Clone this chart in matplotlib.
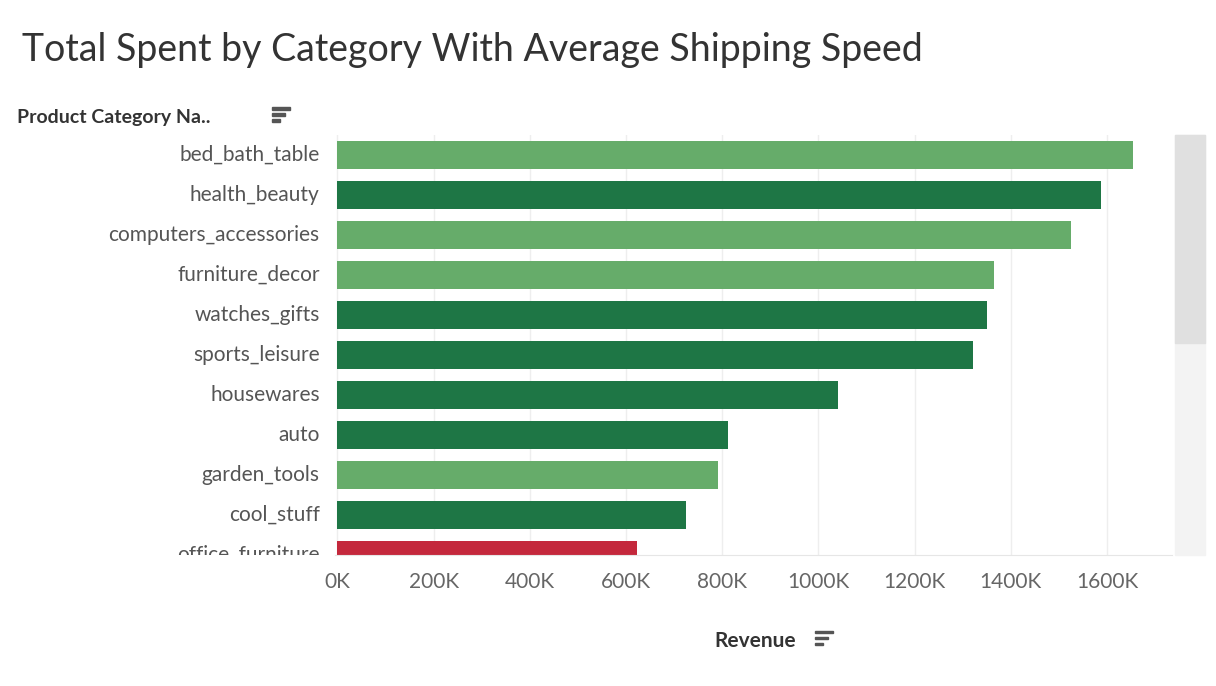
import matplotlib.pyplot as plt
from matplotlib.patches import Rectangle

# --- Data ---
categories = ["bed_bath_table", "health_beauty", "computers_accessories", "furniture_decor",
              "watches_gifts", "sports_leisure", "housewares", "auto", "garden_tools",
              "cool_stuff", "office_furniture"]
revenue_k = [1654, 1588, 1525, 1364, 1351, 1322, 1040, 812, 792, 725, 622]
speed_group = ["fast", "medium", "fast", "fast", "medium", "medium", "medium", "medium",
               "fast", "medium", "slow"]
tick_values = [0, 200, 400, 600, 800, 1000, 1200, 1400, 1600]

COLORS = {"fast": "#66ac6a", "medium": "#1e7645", "slow": "#c4283c"}
W, H = 1216, 686

fig = plt.figure(figsize=(12.16, 6.86), dpi=100)
plt.rcParams['font.family'] = ['Lato', 'DejaVu Sans']

# axes box in pixels: x 335..1172, y 135..555
ax = fig.add_axes([335 / W, 1 - 555 / H, (1172 - 335) / W, (555 - 135) / H])
ypos = list(range(len(categories)))
ax.barh(ypos, revenue_k, height=0.7, color=[COLORS[s] for s in speed_group], zorder=2)
ax.set_ylim(10.0, -0.5)
ax.set_xlim(-5, 1735)
ax.set_xticks(tick_values)
ax.set_xticklabels([f"{v}K" for v in tick_values], fontsize=15, color="#666666")
ax.set_yticks([])
ax.tick_params(axis="x", length=0, pad=12)
ax.grid(axis="x", color="#eeeeee", linewidth=1, zorder=0)
for s in ["top", "right", "left"]:
    ax.spines[s].set_visible(False)
ax.spines["bottom"].set_color("#e6e6e6")

# category labels, clipped to the pane height
clip = Rectangle((0, 1 - 555 / H), 1, (555 - 135) / H, transform=fig.transFigure)
for i, name in enumerate(categories):
    t = ax.annotate(name, xy=(0, i), xycoords=("axes fraction", "data"),
                    xytext=(-11, 0), textcoords="offset points",
                    ha="right", va="center", fontsize=15, color="#555555",
                    annotation_clip=False)
    t.set_clip_path(clip)

# scrollbar
fig.patches.append(Rectangle((1175 / W, 1 - 555 / H), 30 / W, 420 / H,
                             transform=fig.transFigure, color="#f3f3f3"))
fig.patches.append(Rectangle((1175 / W, 1 - 343 / H), 30 / W, 208 / H,
                             transform=fig.transFigure, color="#e0e0e0"))


def sort_icon(x, y):
    for k, w in enumerate([18, 13, 8]):
        fig.patches.append(Rectangle((x / W, 1 - (y + k * 6) / H), w / W, 2.5 / H,
                                     transform=fig.transFigure, color="#555555"))


fig.text(22 / W, 1 - 50 / H, "Total Spent by Category With Average Shipping Speed",
         fontsize=27, color="#333333", va="center")
fig.text(17 / W, 1 - 118 / H, "Product Category Na..", fontsize=14, color="#333333",
         va="center", fontweight="bold")
sort_icon(272, 110)
fig.text(755 / W, 1 - 641 / H, "Revenue", fontsize=15, color="#333333",
         va="center", ha="center", fontweight="bold")
sort_icon(815, 633)

fig.savefig("out.png", dpi=100)
